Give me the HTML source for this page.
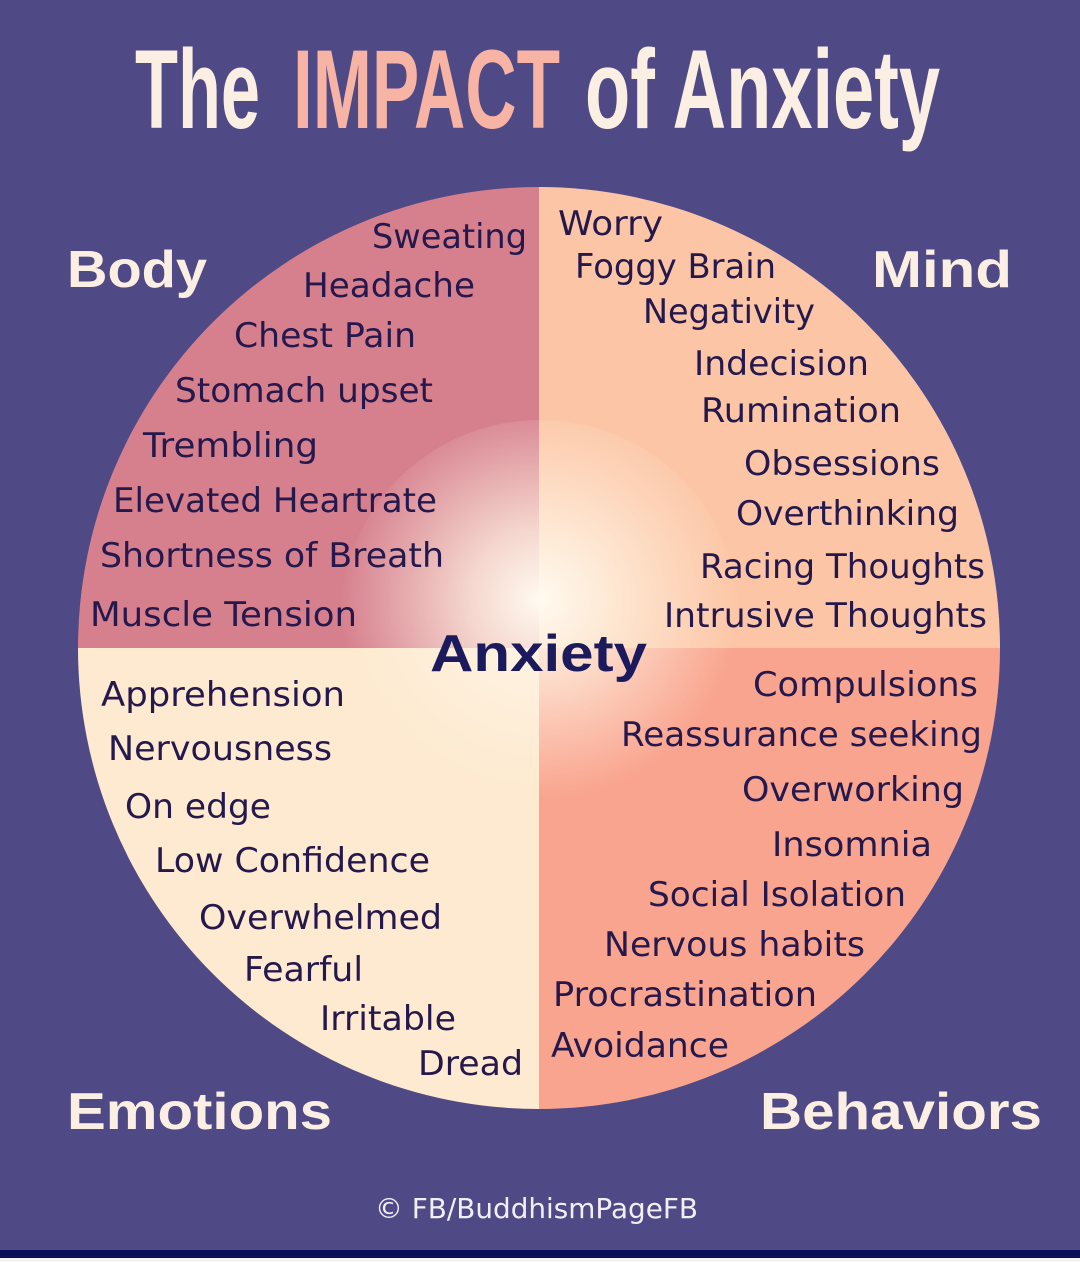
<!DOCTYPE html>
<html><head><meta charset="utf-8"><style>
html,body{margin:0;padding:0;background:#4f4985;}
svg{display:block}
</style></head><body>
<svg width="1080" height="1262" viewBox="0 0 1080 1262" xmlns="http://www.w3.org/2000/svg">
<defs>
<radialGradient id="glow" cx="540" cy="600" r="200" gradientUnits="userSpaceOnUse">
<stop offset="0" stop-color="#fffaf0" stop-opacity="1"/>
<stop offset="0.35" stop-color="#fff4e4" stop-opacity="0.75"/>
<stop offset="1" stop-color="#fff0e0" stop-opacity="0"/>
</radialGradient>
<clipPath id="c"><circle cx="539" cy="648" r="461"/></clipPath>
</defs>
<rect width="1080" height="1262" fill="#4f4985"/>
<rect y="1250" width="1080" height="8" fill="#0b0f5a"/>
<rect y="1258" width="1080" height="4" fill="#f4f4f8"/>
<g clip-path="url(#c)">
<rect x="70" y="180" width="469" height="468" fill="#d6808e"/>
<rect x="539" y="180" width="470" height="468" fill="#fcc6a6"/>
<rect x="70" y="648" width="469" height="470" fill="#fdead0"/>
<rect x="539" y="648" width="470" height="470" fill="#f9a48e"/>
<circle cx="540" cy="620" r="200" fill="url(#glow)"/>
</g>
<g font-family="Liberation Sans Narrow, Liberation Sans, sans-serif" font-weight="bold" fill="#fbeee2">
<text x="135" y="128" font-size="112" textLength="125" lengthAdjust="spacingAndGlyphs">The</text>
<text x="293" y="128" font-size="112" fill="#f7b3a3" textLength="267" lengthAdjust="spacingAndGlyphs">IMPACT</text>
<text x="585" y="128" font-size="112" textLength="355" lengthAdjust="spacingAndGlyphs">of Anxiety</text>
</g>
<g font-family="Liberation Sans, sans-serif" font-weight="bold" fill="#fbeee2" font-size="52">
<text x="67" y="287" textLength="140" lengthAdjust="spacingAndGlyphs">Body</text>
<text x="872" y="287" textLength="140" lengthAdjust="spacingAndGlyphs">Mind</text>
<text x="67" y="1129" textLength="265" lengthAdjust="spacingAndGlyphs">Emotions</text>
<text x="760" y="1129" textLength="282" lengthAdjust="spacingAndGlyphs">Behaviors</text>
</g>
<text x="430" y="671" font-family="Liberation Sans, sans-serif" font-weight="bold" font-size="52" fill="#1a1a5c" textLength="217" lengthAdjust="spacingAndGlyphs">Anxiety</text>
<g font-family="DejaVu Sans, Liberation Sans, sans-serif" font-size="34" fill="#24184c">
<text x="372" y="248" textLength="155" lengthAdjust="spacingAndGlyphs">Sweating</text>
<text x="303" y="297" textLength="172" lengthAdjust="spacingAndGlyphs">Headache</text>
<text x="234" y="347" textLength="182" lengthAdjust="spacingAndGlyphs">Chest Pain</text>
<text x="175" y="402" textLength="258" lengthAdjust="spacingAndGlyphs">Stomach upset</text>
<text x="143" y="457" textLength="175" lengthAdjust="spacingAndGlyphs">Trembling</text>
<text x="113" y="512" textLength="324" lengthAdjust="spacingAndGlyphs">Elevated Heartrate</text>
<text x="100" y="567" textLength="344" lengthAdjust="spacingAndGlyphs">Shortness of Breath</text>
<text x="90" y="626" textLength="267" lengthAdjust="spacingAndGlyphs">Muscle Tension</text>

<text x="558" y="235" textLength="105" lengthAdjust="spacingAndGlyphs">Worry</text>
<text x="575" y="278" textLength="201" lengthAdjust="spacingAndGlyphs">Foggy Brain</text>
<text x="643" y="323" textLength="172" lengthAdjust="spacingAndGlyphs">Negativity</text>
<text x="694" y="375" textLength="175" lengthAdjust="spacingAndGlyphs">Indecision</text>
<text x="701" y="422" textLength="200" lengthAdjust="spacingAndGlyphs">Rumination</text>
<text x="744" y="475" textLength="196" lengthAdjust="spacingAndGlyphs">Obsessions</text>
<text x="736" y="525" textLength="223" lengthAdjust="spacingAndGlyphs">Overthinking</text>
<text x="700" y="578" textLength="285" lengthAdjust="spacingAndGlyphs">Racing Thoughts</text>
<text x="664" y="627" textLength="323" lengthAdjust="spacingAndGlyphs">Intrusive Thoughts</text>

<text x="101" y="706" textLength="244" lengthAdjust="spacingAndGlyphs">Apprehension</text>
<text x="108" y="760" textLength="224" lengthAdjust="spacingAndGlyphs">Nervousness</text>
<text x="125" y="818" textLength="146" lengthAdjust="spacingAndGlyphs">On edge</text>
<text x="155" y="872" textLength="275" lengthAdjust="spacingAndGlyphs">Low Confidence</text>
<text x="199" y="929" textLength="243" lengthAdjust="spacingAndGlyphs">Overwhelmed</text>
<text x="244" y="981" textLength="119" lengthAdjust="spacingAndGlyphs">Fearful</text>
<text x="320" y="1030" textLength="136" lengthAdjust="spacingAndGlyphs">Irritable</text>
<text x="418" y="1075" textLength="105" lengthAdjust="spacingAndGlyphs">Dread</text>

<text x="753" y="696" textLength="225" lengthAdjust="spacingAndGlyphs">Compulsions</text>
<text x="621" y="746" textLength="361" lengthAdjust="spacingAndGlyphs">Reassurance seeking</text>
<text x="742" y="801" textLength="222" lengthAdjust="spacingAndGlyphs">Overworking</text>
<text x="772" y="856" textLength="160" lengthAdjust="spacingAndGlyphs">Insomnia</text>
<text x="648" y="906" textLength="258" lengthAdjust="spacingAndGlyphs">Social Isolation</text>
<text x="604" y="956" textLength="261" lengthAdjust="spacingAndGlyphs">Nervous habits</text>
<text x="553" y="1006" textLength="264" lengthAdjust="spacingAndGlyphs">Procrastination</text>
<text x="551" y="1057" textLength="178" lengthAdjust="spacingAndGlyphs">Avoidance</text>
</g>
<text x="375" y="1218" font-family="DejaVu Sans, Liberation Sans, sans-serif" font-size="28" fill="#f2eef8" textLength="323" lengthAdjust="spacingAndGlyphs">© FB/BuddhismPageFB</text>
</svg>
</body></html>
